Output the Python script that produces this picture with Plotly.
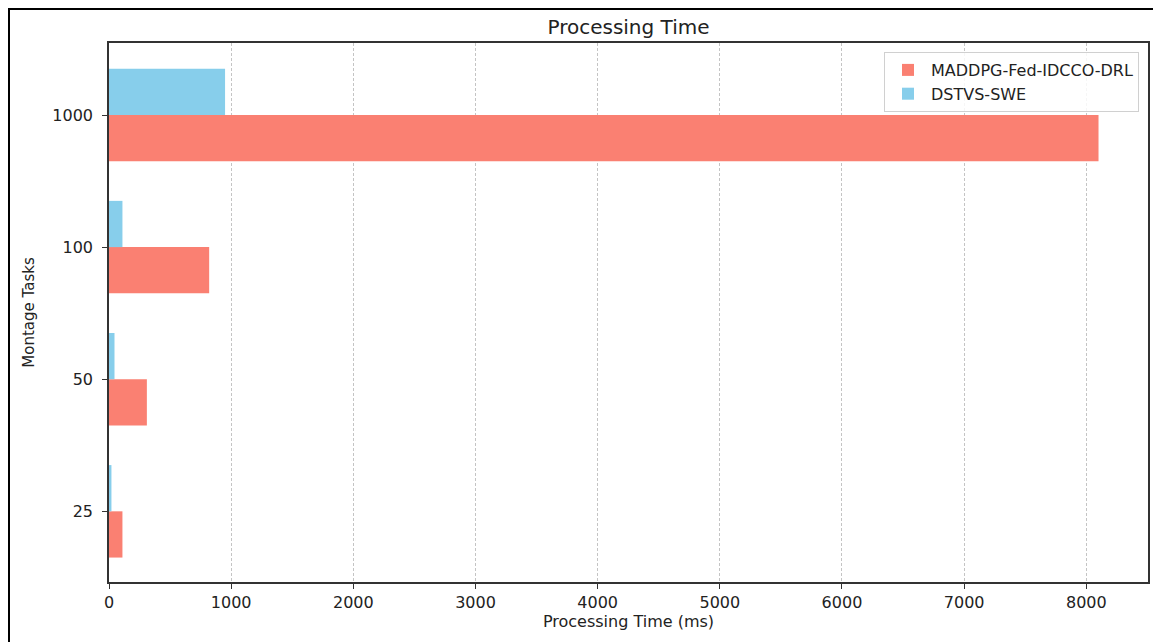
import plotly.graph_objects as go

# Data
task_labels = ["25", "50", "100", "1000"]
maddpg_times = [110, 310, 820, 8100]
dstvs_times = [20, 45, 110, 950]
series_names = ["MADDPG-Fed-IDCCO-DRL", "DSTVS-SWE"]
x_ticks = [0, 1000, 2000, 3000, 4000, 5000, 6000, 7000, 8000]

positions = list(range(len(task_labels)))
bar_h = 0.35

# page offset (body margin) compensation
OFF = 8
W, H = 1161 - OFF, 642 - OFF
ml, mr, mt, mb = 109 - OFF, 1161 - 1148, 43 - OFF, 642 - 582
pw, ph = W - ml - mr, H - mt - mb

fig = go.Figure()
fig.add_trace(go.Bar(
    y=positions, x=maddpg_times, orientation="h", name=series_names[0],
    width=bar_h, offset=-bar_h, marker=dict(color="#FA8072", line=dict(width=0)),
))
fig.add_trace(go.Bar(
    y=positions, x=dstvs_times, orientation="h", name=series_names[1],
    width=bar_h, offset=0, marker=dict(color="#87CEEB", line=dict(width=0)),
))

font_family = "DejaVu Sans"
txt_color = "#222222"

def px_x(px):
    # page pixel -> paper fraction
    return (px - OFF - ml) / pw

def px_y(py):
    return (H - mb - (py - OFF)) / ph

fig.update_layout(
    width=W, height=H,
    margin=dict(l=ml, r=mr, t=mt, b=mb),
    barmode="overlay",
    paper_bgcolor="white", plot_bgcolor="white",
    font=dict(family=font_family, size=16, color=txt_color),
    title=dict(text="Processing Time", x=(ml + pw / 2) / W, xanchor="center",
               y=1 - (27 - OFF) / H, yanchor="middle", yref="container",
               font=dict(size=20, color=txt_color)),
    showlegend=True,
    legend=dict(x=px_x(1139), y=px_y(52), xanchor="right", yanchor="top",
                bgcolor="rgba(255,255,255,0.85)", bordercolor="#d0d0d0", borderwidth=1,
                traceorder="normal", font=dict(size=16), itemwidth=36,
                tracegroupgap=0),
    xaxis=dict(
        range=[0, 8505], tickvals=x_ticks, ticktext=[str(v) for v in x_ticks],
        showgrid=True, gridcolor="#c4c4c4", griddash="3px,2px", gridwidth=1,
        zeroline=False, showline=True, linecolor="#333333", linewidth=1.5, mirror=True,
        ticks="outside", ticklen=5, tickcolor="#333333",
        title=dict(text="Processing Time (ms)", standoff=2, font=dict(size=16)),
    ),
    yaxis=dict(
        range=[-0.535, 3.545], tickvals=positions, ticktext=task_labels,
        showgrid=False, zeroline=False, showline=True, linecolor="#333333",
        linewidth=1.5, mirror=True,
        ticks="outside", ticklen=5, tickcolor="#333333", ticklabelstandoff=6,
        title=dict(text="Montage Tasks", standoff=14, font=dict(size=15)),
    ),
    shapes=[
        dict(type="line", xref="paper", yref="paper",
             x0=px_x(9), x1=px_x(9), y0=px_y(8), y1=px_y(H + OFF + 2),
             line=dict(color="black", width=2)),
        dict(type="line", xref="paper", yref="paper",
             x0=px_x(8), x1=px_x(W + OFF + 2), y0=px_y(9), y1=px_y(9),
             line=dict(color="black", width=2)),
    ],
)

fig.write_html("out.html")
